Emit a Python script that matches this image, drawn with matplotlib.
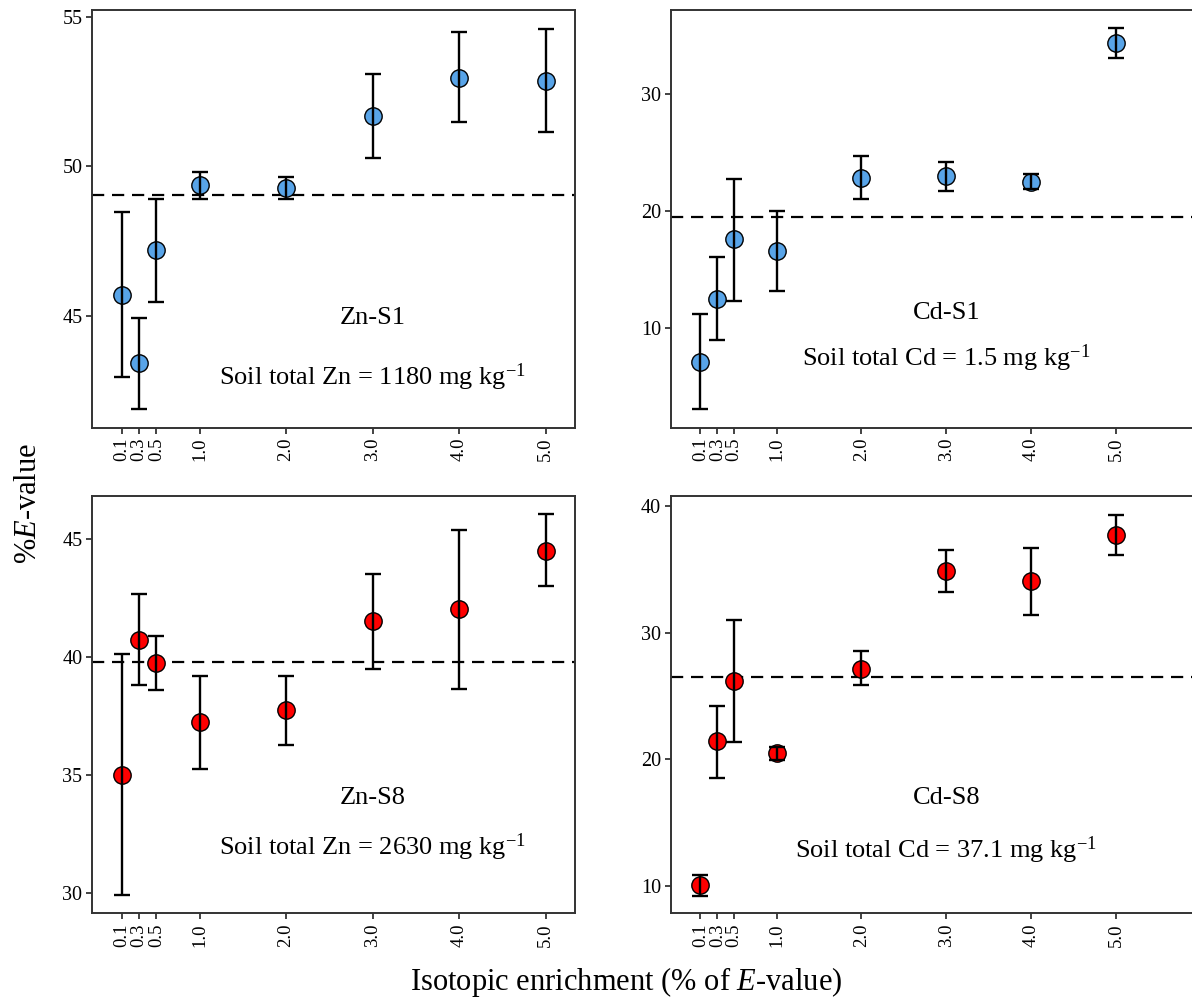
import matplotlib
matplotlib.use("Agg")
import matplotlib.pyplot as plt
import matplotlib.transforms as mtransforms

plt.rcParams['font.family'] = ['Liberation Serif', 'DejaVu Serif']
plt.rcParams['mathtext.fontset'] = 'custom'
plt.rcParams['mathtext.rm'] = 'Liberation Serif'
plt.rcParams['mathtext.it'] = 'Liberation Serif:italic'

enrichment = [0.1, 0.3, 0.5, 1.0, 2.0, 3.0, 4.0, 5.0]
tick_labels = ["0.1", "0.3", "0.5", "1.0", "2.0", "3.0", "4.0", "5.0"]

zn_s1_mean = [45.70, 43.42, 47.21, 49.38, 49.27, 51.70, 52.96, 52.86]
zn_s1_low = [42.95, 41.88, 45.47, 48.92, 48.90, 50.29, 51.49, 51.15]
zn_s1_high = [48.46, 44.92, 48.91, 49.80, 49.65, 53.08, 54.49, 54.61]
zn_s1_ref = 49.05

cd_s1_mean = [7.09, 12.5, 17.6, 16.6, 22.87, 22.99, 22.48, 34.41]
cd_s1_low = [3.08, 8.97, 12.33, 13.16, 21.03, 21.76, 21.88, 33.13]
cd_s1_high = [11.2, 16.12, 22.8, 20.03, 24.73, 24.21, 23.16, 35.67]
cd_s1_ref = 19.51

zn_s8_mean = [35.02, 40.73, 39.73, 37.23, 37.74, 41.52, 42.02, 44.49]
zn_s8_low = [29.91, 38.80, 38.59, 35.28, 36.26, 39.50, 38.65, 42.99]
zn_s8_high = [40.13, 42.67, 40.87, 39.20, 39.20, 43.51, 45.39, 46.05]
zn_s8_ref = 39.8

cd_s8_mean = [10.05, 21.42, 26.18, 20.5, 27.16, 34.87, 34.08, 37.74]
cd_s8_low = [9.18, 18.53, 21.37, 19.97, 25.84, 33.18, 31.39, 36.16]
cd_s8_high = [10.9, 24.24, 30.97, 20.97, 28.55, 36.5, 36.68, 39.32]
cd_s8_ref = 26.5

W, H = 1192, 1007
fig = plt.figure(figsize=(W / 100, H / 100), dpi=100)

def px_axes(x0, x1, y0, y1):
    return fig.add_axes([x0 / W, (H - y1) / H, (x1 - x0) / W, (y1 - y0) / H])

BLUE = '#58A4E8'
RED = '#FF0000'

panels = [
    dict(box=(92, 575, 10, 428), mean=zn_s1_mean, low=zn_s1_low, high=zn_s1_high, ref=zn_s1_ref,
         ylim=(41.25, 55.23), yticks=[45, 50, 55], xlim=(-0.243, 5.339), color=BLUE,
         name="Zn-S1", soil="Soil total Zn = 1180 mg kg$^{-1}$", ny=0.263, sy=0.122),
    dict(box=(670.7, 1200, 10, 428), mean=cd_s1_mean, low=cd_s1_low, high=cd_s1_high, ref=cd_s1_ref,
         ylim=(1.48, 37.2), yticks=[10, 20, 30], xlim=(-0.249, 5.99), color=BLUE,
         name="Cd-S1", soil="Soil total Cd = 1.5 mg kg$^{-1}$", ny=0.275, sy=0.167),
    dict(box=(92, 575, 495.7, 913.3), mean=zn_s8_mean, low=zn_s8_low, high=zn_s8_high, ref=zn_s8_ref,
         ylim=(29.15, 46.83), yticks=[30, 35, 40, 45], xlim=(-0.243, 5.339), color=RED,
         name="Zn-S8", soil="Soil total Zn = 2630 mg kg$^{-1}$", ny=0.275, sy=0.159),
    dict(box=(670.7, 1200, 495.7, 913.3), mean=cd_s8_mean, low=cd_s8_low, high=cd_s8_high, ref=cd_s8_ref,
         ylim=(7.84, 40.81), yticks=[10, 20, 30, 40], xlim=(-0.249, 5.99), color=RED,
         name="Cd-S8", soil="Soil total Cd = 37.1 mg kg$^{-1}$", ny=0.275, sy=0.151),
]

for p in panels:
    ax = px_axes(*p['box'])
    x = enrichment
    m = p['mean']
    yerr = [[mi - lo for mi, lo in zip(m, p['low'])], [hi - mi for mi, hi in zip(m, p['high'])]]
    ax.axhline(p['ref'], color='black', lw=1.6, dashes=(5.5, 3.5), zorder=1)
    ax.plot(x, m, 'o', ms=12.5, mfc=p['color'], mec='black', mew=1.0, ls='none', zorder=2)
    ax.errorbar(x, m, yerr=yerr, fmt='none', ecolor='black', elinewidth=1.7,
                capsize=6, capthick=1.7, zorder=3)
    ax.set_xlim(*p['xlim'])
    ax.set_ylim(*p['ylim'])
    ax.set_yticks(p['yticks'])
    ax.set_xticks(enrichment)
    ax.set_xticklabels(tick_labels, rotation=90)
    ax.tick_params(direction='out', length=4, width=1.2, colors='#222222',
                   labelcolor='black', pad=3)
    ax.tick_params(axis='x', labelsize=13.5)
    ax.tick_params(axis='y', labelsize=14.5)
    for s in ax.spines.values():
        s.set_linewidth(1.4)
        s.set_color('#333333')
    trans = mtransforms.blended_transform_factory(ax.transData, ax.transAxes)
    ax.text(3.0, p['ny'], p['name'], transform=trans, ha='center', va='center', fontsize=19)
    ax.text(3.0, p['sy'], p['soil'], transform=trans, ha='center', va='center', fontsize=19)

fig.text(28 / W, 0.5, "%$E$-value", rotation=90, ha='center', va='center', fontsize=22)
fig.text(626.5 / W, (H - 982) / H, "Isotopic enrichment (% of $E$-value)",
         ha='center', va='center', fontsize=22)

fig.savefig("out.png", dpi=100)
